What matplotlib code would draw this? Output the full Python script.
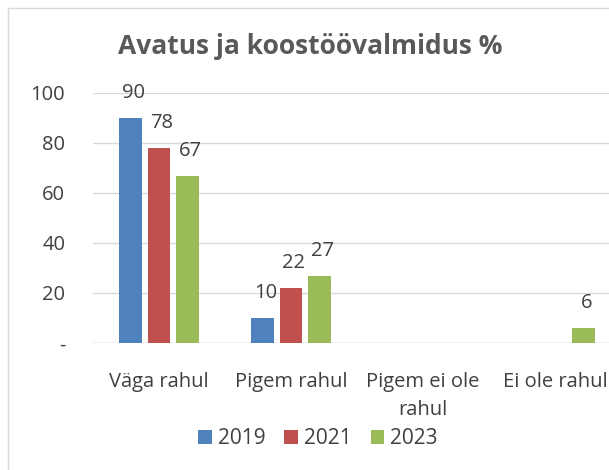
import matplotlib
matplotlib.use("Agg")
import matplotlib.pyplot as plt
import numpy as np
from matplotlib.patches import Rectangle

categories = ["Väga rahul", "Pigem rahul", "Pigem ei ole\nrahul", "Ei ole rahul"]
years = ["2019", "2021", "2023"]
v2019 = [90, 10, None, None]
v2021 = [78, 22, None, None]
v2023 = [67, 27, None, 6]
colors = ["#4F81BD", "#C0504D", "#9BBB59"]

plt.rcParams["font.family"] = ["Open Sans", "DejaVu Sans"]

fig = plt.figure(figsize=(6.09, 4.70), dpi=100)
ax = fig.add_axes([93 / 609, 1 - 343 / 470, 528 / 609, 250 / 470])

x = np.arange(len(categories))
width = 0.17
offsets = [-0.215, 0, 0.215]
for vals, off, col, yr in zip([v2019, v2021, v2023], offsets, colors, years):
    xs = [xi + off for xi, v in zip(x, vals) if v is not None]
    ys = [v for v in vals if v is not None]
    bars = ax.bar(xs, ys, width=width, color=col, label=yr, zorder=3)
    for b, v in zip(bars, ys):
        ax.annotate(str(v), (b.get_x() + b.get_width() / 2, v), xytext=(2, 18),
                    textcoords="offset points", ha="center", va="center",
                    fontsize=14.5, color="#404040", zorder=4)

ax.set_xlim(-0.5, 3.5)
ax.set_ylim(0, 100)
ax.set_yticks([0, 20, 40, 60, 80, 100])
ax.set_yticklabels(["-", "20", "40", "60", "80", "100"])
ax.set_xticks(x)
ax.set_xticklabels(categories, linespacing=1.55)
ax.tick_params(axis="both", length=0, labelsize=14.5, labelcolor="#404040")
ax.tick_params(axis="x", pad=21)
ax.tick_params(axis="y", pad=20)
ax.grid(axis="y", color="#D9D9D9", linewidth=1, zorder=0)
for s in ax.spines.values():
    s.set_visible(False)
ax.axhline(0, color="#D9D9D9", linewidth=1, zorder=1)
ax.get_xticklabels()[-1].set_x(2.93)

fig.text(310 / 609, 1 - 47 / 470, "Avatus ja koostöövalmidus %", ha="center", va="center",
         fontsize=19, fontweight="bold", color="#595959")

fig.legend(loc="center", bbox_to_anchor=(318 / 609, 1 - 439 / 470), ncol=3, frameon=False,
           fontsize=15, labelcolor="#404040", handlelength=0.65, handleheight=0.65,
           handletextpad=0.3, columnspacing=0.9)

fig.patches.append(Rectangle((8 / 609, -0.1), 1.2, 1 - 8 / 470 + 0.1, transform=fig.transFigure,
                             fill=False, edgecolor="#D9D9D9", linewidth=1))

fig.savefig("out.png", dpi=100)
